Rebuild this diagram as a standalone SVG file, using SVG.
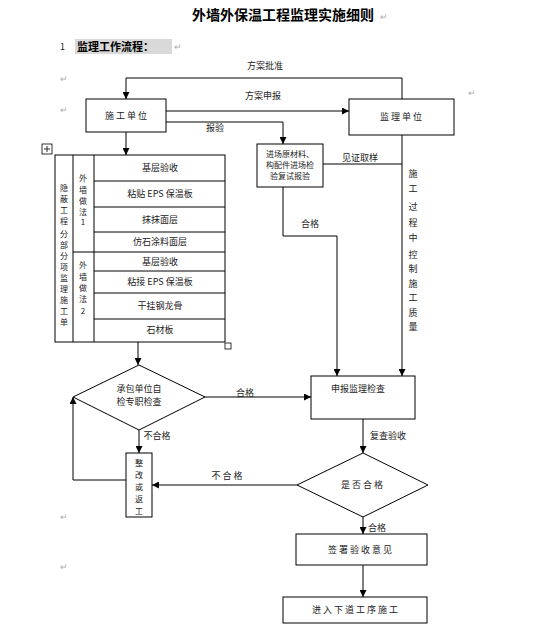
<svg xmlns="http://www.w3.org/2000/svg" width="546" height="637" viewBox="0 0 546 637">
<style>
text{font-family:"Noto Sans CJK SC","Liberation Sans",sans-serif;fill:#222;}
.t{font-size:9px;text-anchor:middle;}
.s{font-size:8px;text-anchor:middle;}
.m{font-size:9px;fill:#aaa;}
.box{fill:#fff;stroke:#000;stroke-width:1;}
.ln{fill:none;stroke:#000;stroke-width:1;}
.ar{fill:none;stroke:#000;stroke-width:1;marker-end:url(#a);}
</style>
<defs>
<marker id="a" viewBox="0 0 8 8" refX="8" refY="4" markerWidth="7" markerHeight="7" markerUnits="userSpaceOnUse" orient="auto">
<path d="M0,0 L8,4 L0,8 z" fill="#000"/>
</marker>
</defs>
<rect width="546" height="637" fill="#fff"/>
<text x="283" y="20" style="font-size:14px;font-weight:bold;text-anchor:middle;fill:#000">外墙外保温工程监理实施细则</text>
<text class="m" x="380" y="20">↵</text>
<text x="60" y="50" style="font-size:9px">1</text>
<rect x="75" y="39" width="97" height="15" fill="#d9d9d9"/>
<text x="77" y="51" style="font-size:11px;font-weight:bold;fill:#000">监理工作流程：</text>
<text class="m" x="174" y="50">↵</text>
<text class="m" x="60" y="82">↵</text>
<text class="m" x="60" y="113">↵</text>
<text class="m" x="468" y="96">↵</text>
<text class="m" x="60" y="520">↵</text>
<text class="m" x="60" y="570">↵</text>

<g id="connectors">
<path class="ar" d="M402,99 V78 H126 V99"/>
<path class="ar" d="M166,111 H349"/>
<path class="ar" d="M166,122 H283 V144"/>
<path class="ar" d="M126,132 V155"/>
<path class="ar" d="M402,135 V376"/>
<path class="ln" d="M323,164 H402"/>
<path class="ar" d="M283,187 V236 H337 V376"/>
<path class="ar" d="M138,342 V365"/>
<path class="ar" d="M205,397 H311"/>
<path class="ar" d="M139,430 V453"/>
<path class="ar" d="M126,480 H73 V397"/>
<path class="ar" d="M297,485 H152"/>
<path class="ar" d="M363,419 V453"/>
<path class="ar" d="M363,517 V534"/>
<path class="ar" d="M363,565 V597"/>
<text class="t" x="265" y="69">方案批准</text>
<text class="t" x="263" y="99">方案申报</text>
<text class="t" x="215" y="131">报验</text>
<text class="t" x="360" y="161">见证取样</text>
<text class="t" x="310" y="227">合格</text>
<text class="t" x="245" y="396">合格</text>
<text class="t" x="157" y="439">不合格</text>
<text class="t" x="227" y="479">不 合 格</text>
<text class="t" x="388" y="439">复查验收</text>
<text class="t" x="377" y="531">合格</text>
<g class="t">
<text x="413" y="177">施</text><text x="413" y="192">工</text><text x="413" y="210">过</text><text x="413" y="226">程</text><text x="413" y="241">中</text><text x="413" y="258">控</text><text x="413" y="272">制</text><text x="413" y="287">施</text><text x="413" y="301">工</text><text x="413" y="316">质</text><text x="413" y="330">量</text>
</g>
</g>

<g id="n-sg">
<rect class="box" x="86" y="99" width="80" height="33"/>
<text class="t" x="126" y="119">施 工 单 位</text>
</g>
<g id="n-jl">
<rect class="box" x="349" y="99" width="105" height="36"/>
<text class="t" x="401" y="120">监 理 单 位</text>
</g>
<g id="n-bj">
<rect class="box" x="257" y="144" width="66" height="43"/>
<text class="s" x="290" y="157">进场原材料、</text>
<text class="s" x="290" y="168">构配件进场检</text>
<text class="s" x="290" y="179">验复试报验</text>
</g>

<g id="n-table">
<rect class="box" x="55" y="155" width="170" height="187"/>
<path class="ln" d="M73,155 V342 M94,155 V342 M94,181 H225 M94,207 H225 M94,232 H225 M73,252 H225 M94,271 H225 M94,293 H225 M94,319 H225"/>
<g class="s">
<text x="64" y="191">隐</text><text x="64" y="202">蔽</text><text x="64" y="213">工</text><text x="64" y="224">程</text><text x="64" y="237">分</text><text x="64" y="248">部</text><text x="64" y="259">分</text><text x="64" y="270">项</text><text x="64" y="281">监</text><text x="64" y="292">理</text><text x="64" y="303">施</text><text x="64" y="314">工</text><text x="64" y="325">单</text>
<text x="83" y="181">外</text><text x="83" y="193">墙</text><text x="83" y="204">做</text><text x="83" y="215">法</text><text x="83" y="225">1</text>
<text x="83" y="268">外</text><text x="83" y="280">墙</text><text x="83" y="291">做</text><text x="83" y="302">法</text><text x="83" y="314">2</text>
</g>
<g class="t">
<text x="160" y="171">基层验收</text>
<text x="160" y="197">粘贴 EPS 保温板</text>
<text x="160" y="223">抹抹面层</text>
<text x="160" y="245">仿石涂料面层</text>
<text x="160" y="265">基层验收</text>
<text x="160" y="285">粘接 EPS 保温板</text>
<text x="160" y="309">干挂钢龙骨</text>
<text x="160" y="333">石材板</text>
</g>
<rect x="42" y="144" width="10" height="10" fill="#fff" stroke="#000" stroke-width="0.8"/>
<path d="M47,146 V152 M44,149 H50" stroke="#000" stroke-width="0.8"/>
<rect x="225" y="343" width="6" height="6" fill="#fff" stroke="#000" stroke-width="0.8"/>
</g>

<g id="n-zj">
<polygon class="box" points="139,365 205,397 139,430 73,397"/>
<text class="t" x="139" y="392">承包单位自</text>
<text class="t" x="139" y="405">检专职检查</text>
</g>
<g id="n-zg">
<rect class="box" x="126" y="453" width="26" height="64"/>
<g class="s"><text x="139" y="466">整</text><text x="139" y="478">改</text><text x="139" y="490">或</text><text x="139" y="502">返</text><text x="139" y="514">工</text></g>
</g>
<g id="n-sb">
<rect class="box" x="311" y="376" width="104" height="43"/>
<text class="t" x="358" y="392">申报监理检查</text>
</g>
<g id="n-sf">
<polygon class="box" points="363,453 428,485 363,517 297,485"/>
<text class="t" x="362" y="488">是 否 合 格</text>
</g>
<g id="n-qs">
<rect class="box" x="296" y="534" width="131" height="31"/>
<text class="t" x="360" y="553">签 署 验 收 意 见</text>
</g>
<g id="n-jr">
<rect class="box" x="283" y="597" width="144" height="26"/>
<text class="t" x="355" y="613">进 入 下 道 工 序 施 工</text>
</g>
</svg>
